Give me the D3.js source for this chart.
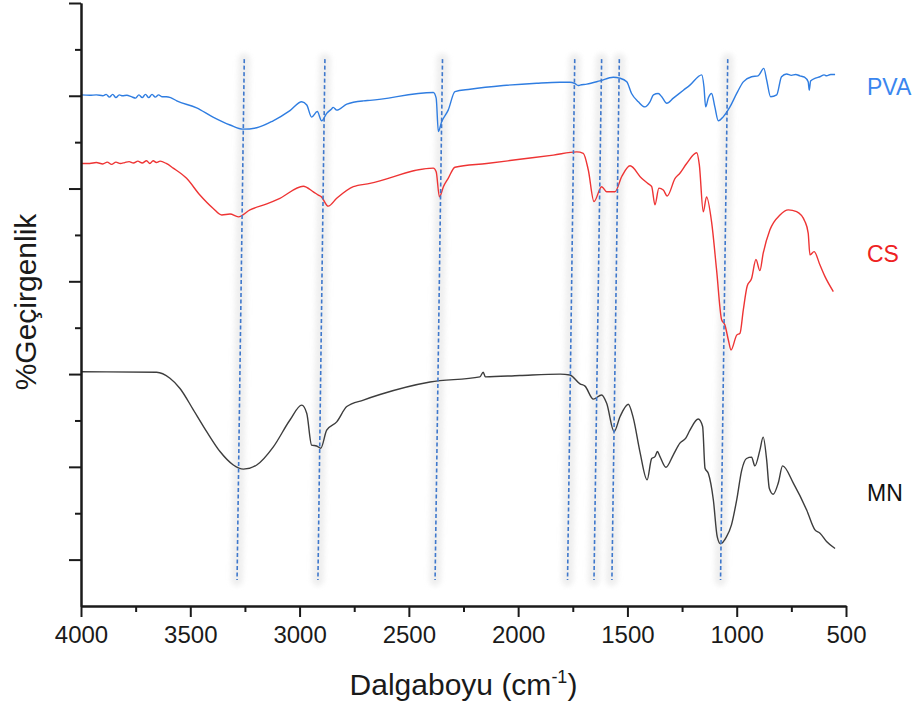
<!DOCTYPE html>
<html lang="tr">
<head>
<meta charset="UTF-8">
<title>FTIR - PVA, CS, MN</title>
<script src="https://d3js.org/d3.v7.min.js"></script>
<style>
  body { margin: 0; background: #fff; }
  svg { display: block; font-family: "Liberation Sans", Arial, sans-serif; }
  .axis path, .axis line { stroke: #1a1a1a; stroke-width: 2px; }
  .axis text { font-size: 24px; fill: #1a1a1a; font-family: "Liberation Sans", Arial, sans-serif; }
</style>
</head>
<body>
<svg width="918" height="710"></svg>
<script>
// wavenumber (cm-1), transmittance (offset, arbitrary %)
const pva = [
  [4000,110.2],[3960,110.1],[3930,110.2],[3900,110.0],[3885,110.3],[3870,109.7],[3855,110.3],
  [3840,109.6],[3825,110.2],[3810,110.0],[3790,110.1],[3770,109.8],[3750,109.5],[3735,110.2],
  [3720,109.6],[3705,110.3],[3690,109.6],[3675,110.3],[3660,109.7],[3645,110.2],[3630,109.8],
  [3610,109.8],[3590,109.6],[3562,108.9],[3471,107.4],[3396,105.4],[3318,103.7],[3259,102.8],
  [3196,103.1],[3121,104.6],[3044,106.8],[2990,108.7],[2967,108.0],[2945,105.4],[2919,106.6],
  [2899,104.6],[2876,106.2],[2855,107.1],[2846,107.5],[2830,106.9],[2784,108.2],[2708,108.9],
  [2678,109.0],[2388,110.7],[2375,109.5],[2365,102.3],[2350,104.4],[2320,106.9],[2289,110.9],
  [2220,111.4],[2068,112.2],[1915,112.7],[1808,112.9],[1763,112.9],[1740,112.6],[1725,112.2],
  [1717,112.3],[1686,112.5],[1626,113.2],[1565,114.0],[1535,113.8],[1503,113.0],[1481,110.5],
  [1450,108.7],[1420,107.6],[1397,108.7],[1381,110.2],[1359,110.5],[1343,109.8],[1320,108.4],
  [1290,109.5],[1244,111.2],[1214,112.3],[1160,114.5],[1150,112.0],[1142,107.6],[1130,109.5],
  [1115,110.5],[1100,107.6],[1084,104.6],[1061,105.5],[1031,107.6],[1000,110.5],[970,113.0],
  [932,114.1],[902,114.3],[876,115.9],[863,113.4],[845,109.8],[817,110.2],[795,114.1],
  [772,114.7],[750,114.4],[730,114.6],[711,114.3],[690,114.0],[673,113.0],[668,111.2],
  [662,113.2],[640,113.8],[619,114.1],[600,114.5],[589,114.3],[570,114.6],[550,114.6]
];

const cs = [
  [4000,95.4],[3960,95.4],[3930,95.6],[3900,95.3],[3880,95.7],[3860,95.2],[3840,95.7],
  [3820,95.4],[3800,95.6],[3780,95.8],[3760,95.5],[3740,95.9],[3720,95.5],[3700,96.0],
  [3685,95.4],[3670,96.0],[3655,95.6],[3638,95.9],[3610,95.4],[3578,94.4],[3517,92.2],
  [3456,88.6],[3395,85.7],[3356,84.3],[3318,84.5],[3280,83.9],[3227,85.4],[3150,86.7],
  [3090,87.9],[2983,90.5],[2937,89.3],[2914,88.6],[2900,88.2],[2869,86.2],[2830,87.9],
  [2754,90.4],[2678,91.1],[2388,94.4],[2375,93.6],[2360,88.2],[2342,90.4],[2320,92.2],
  [2289,94.6],[2144,95.4],[1992,96.3],[1839,97.2],[1732,97.9],[1702,97.6],[1679,94.0],
  [1653,87.2],[1618,90.4],[1595,89.3],[1557,89.3],[1526,92.6],[1488,94.9],[1435,92.2],
  [1404,91.0],[1389,90.4],[1374,86.5],[1356,90.1],[1336,89.7],[1318,88.4],[1282,92.2],
  [1260,93.3],[1229,95.4],[1183,97.7],[1171,95.1],[1153,85.0],[1138,88.2],[1115,82.8],
  [1092,72.4],[1069,61.7],[1054,60.6],[1038,57.3],[1026,55.2],[1000,58.4],[985,58.8],
  [970,63.8],[952,69.0],[932,70.6],[912,74.7],[894,72.3],[879,76.0],[848,81.1],
  [802,84.3],[764,85.4],[726,85.0],[688,82.9],[673,80.4],[665,75.7],[646,76.4],
  [619,73.5],[596,71.0],[558,67.8]
];

const mn = [
  [4000,50.5],[3654,50.4],[3593,49.1],[3547,46.9],[3486,42.3],[3425,37.6],[3364,33.3],
  [3303,30.4],[3257,29.5],[3196,30.4],[3120,34.3],[3044,40.1],[2990,43.3],[2967,41.5],
  [2945,34.7],[2922,34.5],[2903,34.0],[2876,37.9],[2830,39.7],[2784,43.0],[2708,44.4],
  [2632,45.6],[2403,48.3],[2175,49.4],[2160,50.4],[2150,49.4],[1992,49.7],[1808,50.0],
  [1763,49.8],[1717,47.9],[1694,47.4],[1656,44.6],[1618,45.5],[1595,43.7],[1561,37.6],
  [1534,40.8],[1496,43.5],[1473,40.5],[1443,33.3],[1410,27.2],[1389,31.8],[1374,32.2],
  [1363,33.3],[1351,32.2],[1324,29.9],[1290,32.6],[1260,35.1],[1233,36.2],[1214,37.9],
  [1176,40.3],[1156,38.7],[1145,29.7],[1130,28.6],[1107,22.9],[1089,14.9],[1074,13.4],
  [1047,14.9],[1024,17.5],[1000,22.9],[977,29.3],[955,31.8],[932,32.1],[917,30.2],
  [894,33.6],[879,36.4],[863,31.5],[851,25.4],[833,24.1],[810,26.5],[790,30.2],
  [741,26.5],[680,20.7],[642,16.4],[619,15.7],[589,13.9],[550,12.4]
];

// marker lines (slightly slanted), wavenumber at top and bottom end
const markTop = [3253, 2884, 2346, 1741, 1618, 1537, 1041];
const markBottom = [3286, 2916, 2380, 1774, 1653, 1571, 1074];
const markRange = [117.9, 5.6];

const xMajor = [4000, 3500, 3000, 2500, 2000, 1500, 1000, 500];
const xMinor = [3750, 3250, 2750, 2250, 1750, 1250, 750];
const yMajor = [10, 30, 50, 70, 90, 110, 130];
const yMinor = [20, 40, 60, 80, 100, 120];

const seriesNames = ["PVA", "CS", "MN"];
const seriesColors = ["#2f7de1", "#ee3434", "#3d3d3d"];
const labelColors = ["#3a86ef", "#ee2222", "#111111"];

const margin = { top: 3, right: 72, bottom: 104, left: 81 };
const width = 918 - margin.left - margin.right;
const height = 710 - margin.top - margin.bottom;

const svg = d3.select("svg");
const g = svg.append("g").attr("transform", "translate(" + margin.left + "," + margin.top + ")");

const x = d3.scaleLinear().domain([4000, 500]).range([0, width]);
const y = d3.scaleLinear().domain([0, 130]).range([height, 0]);

// soft glow behind marker lines
const defs = svg.append("defs");
defs.append("filter").attr("id", "blur")
  .attr("x", "-200%").attr("width", "500%")
  .append("feGaussianBlur").attr("stdDeviation", 2.5);

const marks = markTop.map(function(t, i) { return { top: t, bottom: markBottom[i] }; });

g.selectAll(".glow")
  .data(marks)
  .enter()
  .append("line")
  .attr("class", "glow")
  .attr("x1", function(d) { return x(d.top); })
  .attr("y1", y(markRange[0]))
  .attr("x2", function(d) { return x(d.bottom); })
  .attr("y2", y(markRange[1]))
  .attr("stroke", "#e4e4e4")
  .attr("stroke-width", 12)
  .attr("stroke-linecap", "round")
  .attr("opacity", 0.6)
  .attr("filter", "url(#blur)");

const line = d3.line()
  .x(function(d) { return x(d[0]); })
  .y(function(d) { return y(d[1]); })
  .curve(d3.curveMonotoneX);

[pva, cs, mn].forEach(function(s, i) {
  g.append("path")
    .datum(s)
    .attr("fill", "none")
    .attr("stroke", seriesColors[i])
    .attr("stroke-width", 1.4)
    .attr("stroke-linejoin", "round")
    .attr("d", line);
});

g.selectAll(".mark")
  .data(marks)
  .enter()
  .append("line")
  .attr("class", "mark")
  .attr("x1", function(d) { return x(d.top); })
  .attr("y1", y(markRange[0]))
  .attr("x2", function(d) { return x(d.bottom); })
  .attr("y2", y(markRange[1]))
  .attr("stroke", "#3f78cc")
  .attr("stroke-width", 1.6)
  .attr("stroke-dasharray", "4,2.5");

// axes
g.append("g")
  .attr("class", "axis")
  .attr("transform", "translate(0," + height + ")")
  .call(d3.axisBottom(x).tickValues(xMinor).tickSize(6).tickSizeOuter(0).tickFormat(""));

g.append("g")
  .attr("class", "axis")
  .attr("transform", "translate(0," + height + ")")
  .call(d3.axisBottom(x).tickValues(xMajor).tickSize(11).tickSizeOuter(0).tickPadding(9)
    .tickFormat(d3.format("d")));

g.append("g")
  .attr("class", "axis")
  .call(d3.axisLeft(y).tickValues(yMinor).tickSize(6).tickSizeOuter(0).tickFormat(""));

g.append("g")
  .attr("class", "axis")
  .call(d3.axisLeft(y).tickValues(yMajor).tickSize(12).tickSizeOuter(0).tickFormat(""));

// series labels
const labelY = [112, 76, 24.4];
seriesNames.forEach(function(n, i) {
  g.append("text")
    .attr("x", width + 21)
    .attr("y", y(labelY[i]))
    .attr("fill", labelColors[i])
    .attr("font-size", 23)
    .attr("dy", "0.35em")
    .text(n);
});

// axis titles
const xTitle = svg.append("text")
  .attr("x", margin.left + width / 2)
  .attr("y", 695)
  .attr("text-anchor", "middle")
  .attr("font-size", 30)
  .attr("fill", "#1a1a1a");
xTitle.append("tspan").text("Dalgaboyu (cm");
xTitle.append("tspan").attr("font-size", 18).attr("dy", -12).text("-1");
xTitle.append("tspan").attr("dy", 12).text(")");

svg.append("text")
  .attr("transform", "translate(36,302) rotate(-90)")
  .attr("text-anchor", "middle")
  .attr("font-size", 30)
  .attr("fill", "#1a1a1a")
  .text("%Geçirgenlik");
</script>
</body>
</html>
